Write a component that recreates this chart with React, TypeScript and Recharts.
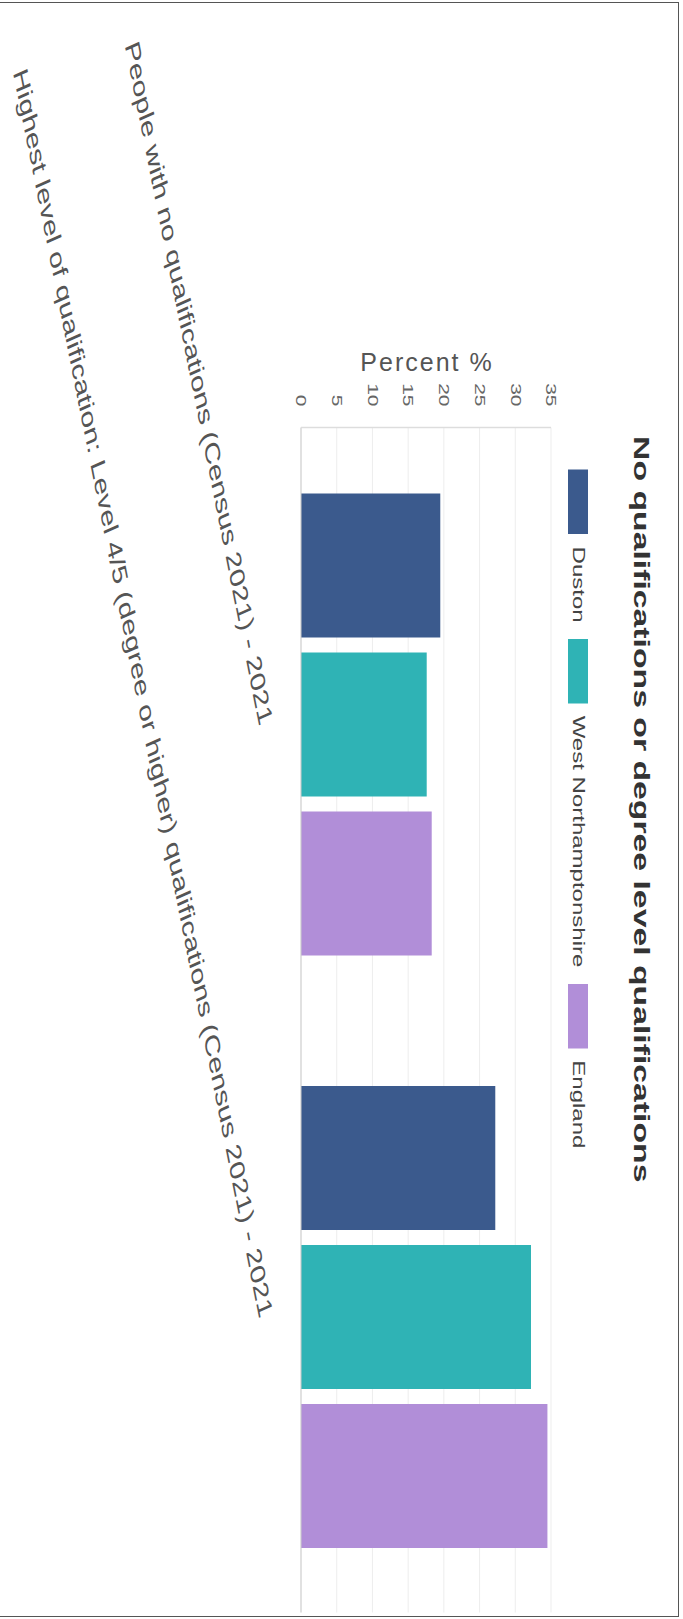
import React from "react";
import { BarChart, Bar, XAxis, YAxis, CartesianGrid } from "recharts";

// values
const categories = [
  "People with no qualifications (Census 2021) - 2021",
  "Highest level of qualification: Level 4/5 (degree or higher) qualifications (Census 2021) - 2021",
];
const dustonValues = [19.5, 27.2];
const westNorthantsValues = [17.6, 32.2];
const englandValues = [18.3, 34.5];
const percentTicks = [0, 5, 10, 15, 20, 25, 30, 35];

const seriesKeys = ["duston", "westNorthants", "england"];
const seriesNames = ["Duston", "West Northamptonshire", "England"];
const seriesColors = ["#3b5a8d", "#2fb3b5", "#b18ed8"];

const data = categories.map((name, i) => ({
  name,
  duston: dustonValues[i],
  westNorthants: westNorthantsValues[i],
  england: englandValues[i],
}));

// the scan is the chart turned 90deg and stretched along its length
const STRETCH = 1.5;
const CHART_W = 1079;
const CHART_H = 683;
const Y_AXIS_W = 285;
const FONT = "'Liberation Sans', Arial, sans-serif";

const PercentTick = (props: any) => {
  const { y, payload } = props;
  return (
    <text
      x={Y_AXIS_W - 14}
      y={y}
      textAnchor="end"
      dominantBaseline="central"
      fontSize={14}
      fill="#666"
      fontFamily={FONT}
    >
      {payload.value}
    </text>
  );
};

const CategoryTick = (props: any) => {
  const { x, payload } = props;
  const ty = 417;
  return (
    <text
      x={x}
      y={ty}
      textAnchor="end"
      dominantBaseline="central"
      transform={`rotate(-16.5, ${x}, ${ty})`}
      fontSize={21}
      fill="#555"
      fontFamily={FONT}
    >
      {payload.value}
    </text>
  );
};

const PercentTitle = () => (
  <text
    transform={`translate(241,256) scale(${1 / STRETCH},1) rotate(-90)`}
    textAnchor="middle"
    dominantBaseline="central"
    fontSize={25}
    letterSpacing={2}
    fill="#555"
    fontFamily={FONT}
  >
    Percent %
  </text>
);

const App = () => {
  return (
    <div
      style={{
        position: "absolute",
        left: 0,
        top: 0,
        width: 683,
        height: 1619,
        overflow: "hidden",
        background: "#fff",
      }}
    >
      <div
        style={{
          position: "absolute",
          left: 0,
          top: 2,
          width: 678,
          height: 1613,
          borderTop: "1.5px solid #555",
          borderRight: "1.5px solid #555",
          borderBottom: "1.5px solid #555",
        }}
      />
      <div
        style={{
          position: "absolute",
          left: 0,
          top: 0,
          width: CHART_W,
          height: CHART_H,
          transformOrigin: "0 0",
          transform: `translate(${CHART_H}px, 0) rotate(90deg) scale(${STRETCH}, 1)`,
          fontFamily: FONT,
        }}
      >
        <div
          style={{
            position: "absolute",
            top: 30,
            left: 0,
            width: CHART_W,
            textAlign: "center",
            fontSize: 22.5,
            lineHeight: "24px",
            fontWeight: "bold",
            color: "#333",
          }}
        >
          No qualifications or degree level qualifications
        </div>
        <div
          style={{
            position: "absolute",
            top: 95,
            left: 0,
            width: CHART_W,
            display: "flex",
            justifyContent: "center",
            alignItems: "center",
          }}
        >
          {seriesNames.map((name, i) => (
            <div
              key={name}
              style={{ display: "flex", alignItems: "center", marginRight: i < 2 ? 11 : 0 }}
            >
              <span
                style={{
                  display: "inline-block",
                  width: 43,
                  height: 20,
                  backgroundColor: seriesColors[i],
                  marginRight: 8,
                }}
              />
              <span style={{ fontSize: 16, lineHeight: "20px", color: "#444" }}>{name}</span>
            </div>
          ))}
        </div>
        <BarChart
          width={CHART_W}
          height={CHART_H}
          data={data}
          margin={{ top: 132, right: 4, bottom: 0, left: 0 }}
          barCategoryGap={44}
          barGap={10}
          style={{ position: "absolute", left: 0, top: 0 }}
        >
          <CartesianGrid vertical={false} stroke="#ededed" />
          <XAxis
            dataKey="name"
            height={301}
            tickLine={false}
            axisLine={{ stroke: "#ccc" }}
            tick={<CategoryTick />}
            interval={0}
          />
          <YAxis
            width={Y_AXIS_W}
            domain={[0, 35]}
            ticks={percentTicks}
            tickLine={false}
            axisLine={{ stroke: "#ddd" }}
            tick={<PercentTick />}
            label={{ content: () => <PercentTitle /> }}
          />
          {seriesKeys.map((key, i) => (
            <Bar
              key={key}
              dataKey={key}
              name={seriesNames[i]}
              fill={seriesColors[i]}
              isAnimationActive={false}
            />
          ))}
        </BarChart>
      </div>
    </div>
  );
};

export default App;
